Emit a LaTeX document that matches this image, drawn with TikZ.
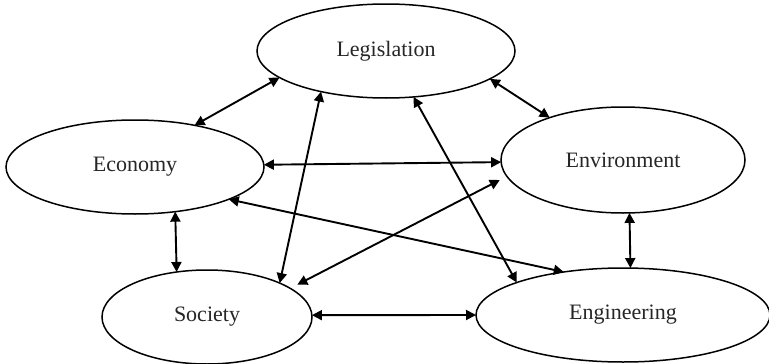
\documentclass[tikz,border=0pt]{standalone}
\usepackage{fontspec}
\setmainfont{Liberation Serif}
\usetikzlibrary{shapes.geometric,arrows.meta}
\begin{document}
\begin{tikzpicture}[x=1pt,y=-1pt,
  topic/.style={draw=black,line width=1.5pt,ellipse,inner sep=0pt,outer sep=0pt,
    text=black!85,font=\fontsize{22}{26}\selectfont},
  link/.style={line width=1.9pt,{Triangle[length=10pt,width=10pt]}-{Triangle[length=10pt,width=10pt]}}]
\useasboundingbox (0,0) rectangle (769,364);
\fill[white] (0,0) rectangle (769,364);

% the five topics
\node[topic,minimum width=258pt,minimum height=94pt]  (leg) at (386,51)  {Legislation};
\node[topic,minimum width=258pt,minimum height=94pt]  (eco) at (135,167) {Economy};
\node[topic,minimum width=244pt,minimum height=106pt] (env) at (623,160) {Environment};
\node[topic,minimum width=210pt,minimum height=94pt]  (soc) at (207,317) {Society};
\node[topic,minimum width=294pt,minimum height=94pt]  (eng) at (623,315) {Engineering};

% two-way links
\draw[link] (eco.35)    -- (leg.194.2);
\draw[link] (leg.345.4) -- (env.150.8);
\draw[link] (eco.1.8)   -- (env.181.4);
\draw[link] (leg.212.5) -- (soc.25.6);
\draw[link] (leg.301.5) -- (eng.163);
\draw[link] (eco.341.4) -- (eng.144.5);
\draw[link,shorten <=8pt,shorten >=8pt] (env.188.8) -- (soc.19.4);
\draw[link] (eco.312.6) -- (soc.124.6);
\draw[link] (env.277.5) -- (eng.81.5);
\draw[link] (soc.1)     -- (eng.180);
\end{tikzpicture}
\end{document}
